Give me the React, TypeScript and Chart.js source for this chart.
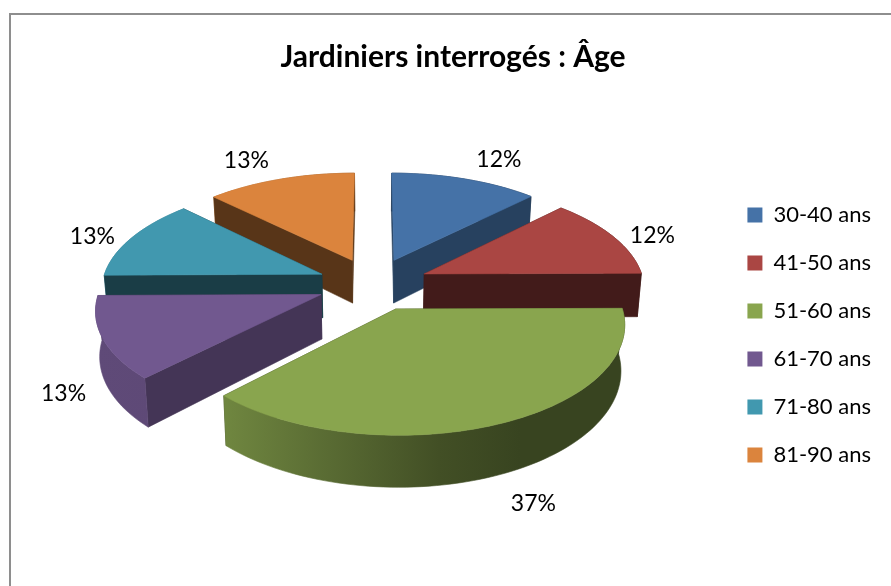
import React, { useEffect, useRef } from "react";
import { Chart, registerables } from "chart.js";

Chart.register(...registerables);

const categories = ["30-40 ans", "41-50 ans", "51-60 ans", "61-70 ans", "71-80 ans", "81-90 ans"];
const shares = [12.45, 12.45, 37.4, 12.55, 12.55, 12.6];
const colours = ["#4572A7", "#AA4643", "#89A54E", "#71588F", "#4198AF", "#DB843D"];
const wallShades = [0.57, 0.39, 0.4, 0.6, 0.4, 0.4];
const titleText = "Jardiniers interrogés : Âge";

const FONT = "Lato, Carlito, 'Open Sans', sans-serif";
const TILT = 0.471;
const PERSPECTIVE = 0.125;
const WALL = 44;
const TAPER = 0.985;
const SHIFT_X = 0;
const SHIFT_Y = -51;

function shade(hex: string, f: number) {
  const n = parseInt(hex.slice(1), 16);
  return `rgb(${Math.round(((n >> 16) & 255) * f)},${Math.round(((n >> 8) & 255) * f)},${Math.round((n & 255) * f)})`;
}

const pie3d = {
  id: "pie3d",
  beforeDatasetDraw() {
    return false;
  },
  beforeDraw(chart: any) {
    const { ctx, width, height } = chart;
    ctx.save();
    ctx.strokeStyle = "#8e8e8e";
    ctx.lineWidth = 2;
    ctx.beginPath();
    ctx.moveTo(10, height + 2);
    ctx.lineTo(10, 14);
    ctx.lineTo(width + 2, 14);
    ctx.stroke();
    ctx.restore();
  },
  afterDatasetsDraw(chart: any) {
    const { ctx } = chart;
    const arcs = chart.getDatasetMeta(0).data as any[];
    const S = arcs[0].outerRadius;
    const cx = arcs[0].x + SHIFT_X;
    const cy = arcs[0].y + SHIFT_Y;
    const project = (u: number, v: number) => {
      const s = 1 / (1 - PERSPECTIVE * v);
      return { x: cx + S * u * s, y: cy + S * TILT * v * s, s, v };
    };
    const down = (p: any) => ({ x: cx + (p.x - cx) * TAPER, y: p.y + WALL * p.s });
    const fillPoly = (pts: any[], fill: any) => {
      ctx.beginPath();
      pts.forEach((p, i) => (i ? ctx.lineTo(p.x, p.y) : ctx.moveTo(p.x, p.y)));
      ctx.closePath();
      ctx.fillStyle = fill;
      ctx.strokeStyle = fill;
      ctx.lineWidth = 0.6;
      ctx.fill();
      ctx.stroke();
    };
    const slices = arcs.map((arc, i) => {
      const mid = (arc.startAngle + arc.endAngle) / 2;
      const d = arc.options.offset / S;
      const ox = Math.cos(mid) * d;
      const oy = Math.sin(mid) * d;
      return { arc, i, mid, ox, oy };
    });
    slices.sort((a, b) => Math.sin(a.mid) - Math.sin(b.mid));
    ctx.save();
    for (const { arc, i, ox, oy } of slices) {
      const steps = Math.ceil((arc.endAngle - arc.startAngle) / 0.03);
      const rim: any[] = [];
      for (let k = 0; k <= steps; k++) {
        const a = arc.startAngle + ((arc.endAngle - arc.startAngle) * k) / steps;
        rim.push(project(ox + Math.cos(a), oy + Math.sin(a)));
      }
      const apex = project(ox, oy);
      const grad = ctx.createLinearGradient(95, 0, 520, 0);
      [[0, 0.84], [0.3, 0.82], [0.55, 0.65], [0.81, 0.48], [1, 0.41]].forEach(([o, f]) =>
        grad.addColorStop(o, shade(colours[i], f))
      );
      const flat = shade(colours[i], wallShades[i]);
      const walls = [
        { pts: [...rim, ...rim.map(down).reverse()], fill: grad, v: rim.reduce((t, p) => t + p.v, 0) / rim.length },
        { pts: [apex, rim[0], down(rim[0]), down(apex)], fill: flat, v: (apex.v + rim[0].v) / 2 },
        { pts: [apex, rim[steps], down(rim[steps]), down(apex)], fill: flat, v: (apex.v + rim[steps].v) / 2 },
      ];
      walls.sort((a, b) => a.v - b.v).forEach((w) => fillPoly(w.pts, w.fill));
      fillPoly([apex, ...rim], colours[i]);
    }
    ctx.fillStyle = "#000";
    ctx.font = `23px ${FONT}`;
    ctx.textAlign = "center";
    ctx.textBaseline = "middle";
    for (const { i, mid, ox, oy } of slices) {
      const c = Math.cos(mid);
      const sn = Math.sin(mid);
      const p = project(ox + c, oy + sn);
      const front = sn > 0;
      const base = front ? down(p).y + 7 : p.y;
      const lift = (front ? 27 : 24) * sn * sn * sn;
      ctx.fillText(`${Math.round(shares[i])}%`, p.x + Math.sign(c) * (30 + 10 * Math.abs(c)), base + lift);
    }
    ctx.restore();
  },
};

export default function App() {
  const ref = useRef<HTMLCanvasElement>(null);
  useEffect(() => {
    const chart = new Chart(ref.current!, {
      type: "pie",
      data: {
        labels: categories,
        datasets: [{ data: shares, backgroundColor: colours, borderWidth: 0, offset: 56 }],
      },
      options: {
        animation: false,
        responsive: false,
        radius: 220,
        layout: { padding: { left: 25, right: 10 } },
        plugins: {
          title: {
            display: true,
            text: titleText,
            color: "#000",
            font: { family: FONT, size: 30, weight: "bold", lineHeight: 1.2 },
            padding: { top: 39, bottom: 9 },
          },
          legend: {
            position: "right",
            fullSize: false,
            labels: {
              boxWidth: 15,
              boxHeight: 15,
              padding: 26,
              color: "#000",
              font: { family: FONT, size: 22 },
            },
          },
          tooltip: { enabled: false },
        },
      },
      plugins: [pie3d],
    } as any);
    return () => chart.destroy();
  }, []);
  return (
    <div style={{ position: "fixed", left: 0, top: 0, width: 891, height: 586, overflow: "hidden", background: "#fff" }}>
      <canvas ref={ref} width={891} height={586} style={{ display: "block" }} />
    </div>
  );
}
